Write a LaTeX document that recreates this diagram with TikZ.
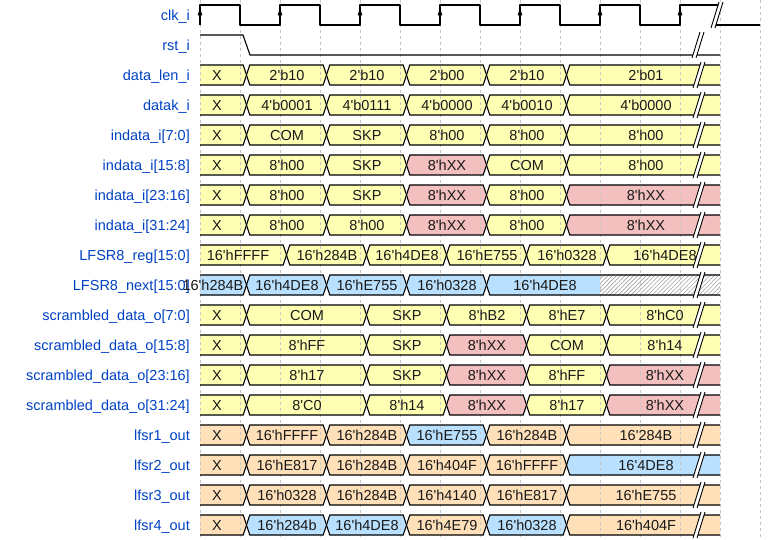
\documentclass[tikz,border=0pt]{standalone}
\usepackage{fontspec}
\newfontfamily\wf{Liberation Sans}
\usetikzlibrary{patterns.meta}
\definecolor{cy}{HTML}{FFFFB4}
\definecolor{co}{HTML}{FFE0B9}
\definecolor{cb}{HTML}{B9E0FF}
\definecolor{cp}{HTML}{F4BFBF}
\definecolor{lab}{HTML}{0041C4}
\newcounter{vc}
\pgfdeclarelayer{fills}
\pgfdeclarelayer{grid}
\pgfsetlayers{fills,grid,main}
\tikzset{
  wl/.style={line width=1.1bp, black, line join=round},
  vt/.style={font=\wf\fontsize{14.5bp}{16bp}\selectfont, inner sep=0pt, text=black!90, anchor=base},
  lbl/.style={font=\wf\fontsize{14.5bp}{16bp}\selectfont, inner sep=0pt, text=lab, anchor=base east},
  gridl/.style={gray!45, dash pattern=on 3bp off 3bp, line width=0.8bp}
}
% start cell: #1 y, #2 a, #3 b, #4 colour, #5 text x, #6 text
\newcommand\cS[6]{%
  \begin{pgfonlayer}{fills}
  \fill[#4] (#2,#1-10) -- (#3-3.3,#1-10) -- (#3,#1) -- (#3-3.3,#1+10) -- (#2,#1+10) -- cycle;
  \end{pgfonlayer}
  \draw[wl] (#2,#1-10) -- (#3-3.3,#1-10) -- (#3,#1) -- (#3-3.3,#1+10) -- (#2,#1+10);
  \stepcounter{vc}\node[vt] (v\arabic{vc}) at (#5,#1+5.3) {#6};}
% middle cell
\newcommand\cM[6]{%
  \begin{pgfonlayer}{fills}
  \fill[#4] (#2+3.3,#1-10) -- (#3-3.3,#1-10) -- (#3,#1) -- (#3-3.3,#1+10) -- (#2+3.3,#1+10) -- (#2,#1) -- cycle;
  \end{pgfonlayer}
  \draw[wl] (#2+3.3,#1-10) -- (#3-3.3,#1-10) -- (#3,#1) -- (#3-3.3,#1+10) -- (#2+3.3,#1+10) -- (#2,#1) -- cycle;
  \stepcounter{vc}\node[vt] (v\arabic{vc}) at (#5,#1+5.3) {#6};}
% end cell (open right end)
\newcommand\cE[6]{%
  \begin{pgfonlayer}{fills}
  \fill[#4] (#2+3.3,#1-10) -- (#3,#1-10) -- (#3,#1+10) -- (#2+3.3,#1+10) -- (#2,#1) -- cycle;
  \end{pgfonlayer}
  \draw[wl] (#3,#1-10) -- (#2+3.3,#1-10) -- (#2,#1) -- (#2+3.3,#1+10) -- (#3,#1+10);
  \stepcounter{vc}\node[vt] (v\arabic{vc}) at (#5,#1+5.3) {#6};}
% break mark: #1 x, #2 y
\newcommand\brk[2]{%
  \fill[white] (#1-6,#2+13) -- (#1+2,#2-13) -- (#1+6,#2-13) -- (#1-2,#2+13) -- cycle;
  \draw[black, line width=0.9bp] (#1-6,#2+13) -- (#1+2,#2-13);
  \draw[black, line width=0.9bp] (#1-2,#2+13) -- (#1+6,#2-13);}
\begin{document}
\begin{tikzpicture}[x=1bp,y=-1bp]
\useasboundingbox (0,0) rectangle (780,540);
\begin{pgfonlayer}{grid}
\foreach \x in {200,240,...,760} {\draw[gridl] (\x,0) -- (\x,540);}
\end{pgfonlayer}

% labels
\node[lbl] (l1) at (190,20.5) {clk\_i};
\node[lbl] (l2) at (190,50.5) {rst\_i};
\node[lbl] (l3) at (190,80.5) {data\_len\_i};
\node[lbl] (l4) at (190,110.5) {datak\_i};
\node[lbl] (l5) at (190,140.5) {indata\_i[7:0]};
\node[lbl] (l6) at (190,170.5) {indata\_i[15:8]};
\node[lbl] (l7) at (190,200.5) {indata\_i[23:16]};
\node[lbl] (l8) at (190,230.5) {indata\_i[31:24]};
\node[lbl] (l9) at (190,260.5) {LFSR8\_reg[15:0]};
\node[lbl] (l10) at (190,290.5) {LFSR8\_next[15:0]};
\node[lbl] (l11) at (190,320.5) {scrambled\_data\_o[7:0]};
\node[lbl] (l12) at (190,350.5) {scrambled\_data\_o[15:8]};
\node[lbl] (l13) at (190,380.5) {scrambled\_data\_o[23:16]};
\node[lbl] (l14) at (190,410.5) {scrambled\_data\_o[31:24]};
\node[lbl] (l15) at (190,440.5) {lfsr1\_out};
\node[lbl] (l16) at (190,470.5) {lfsr2\_out};
\node[lbl] (l17) at (190,500.5) {lfsr3\_out};
\node[lbl] (l18) at (190,530.5) {lfsr4\_out};

% clock
\draw[wl] (200,25) -- (200,5) -- (240,5) -- (240,25) -- (280,25) -- (280,5) -- (320,5) -- (320,25)
  -- (360,25) -- (360,5) -- (400,5) -- (400,25) -- (440,25) -- (440,5) -- (480,5) -- (480,25)
  -- (520,25) -- (520,5) -- (560,5) -- (560,25) -- (600,25) -- (600,5) -- (640,5) -- (640,25)
  -- (680,25) -- (680,5) -- (718,5);
\draw[wl] (715,25) -- (760,25);
\foreach \x in {200,280,...,680} {\fill (\x,8) -- (\x-2.4,15.5) -- (\x+2.4,15.5) -- cycle;}
\brk{717}{15}
% reset
\draw[wl] (200,35) -- (243,35) -- (250,55) -- (720,55);
\brk{698}{45}

% data_len_i
\cS{75}{200}{246.5}{cy}{217}{X}
\cM{75}{246.5}{326.5}{cy}{287}{2'b10}
\cM{75}{326.5}{406.5}{cy}{367}{2'b10}
\cM{75}{406.5}{486.5}{cy}{447}{2'b00}
\cM{75}{486.5}{566.5}{cy}{527}{2'b10}
\cE{75}{566.5}{720}{cy}{646}{2'b01}
% datak_i
\cS{105}{200}{246.5}{cy}{217}{X}
\cM{105}{246.5}{326.5}{cy}{287}{4'b0001}
\cM{105}{326.5}{406.5}{cy}{367}{4'b0111}
\cM{105}{406.5}{486.5}{cy}{447}{4'b0000}
\cM{105}{486.5}{566.5}{cy}{527}{4'b0010}
\cE{105}{566.5}{720}{cy}{646}{4'b0000}
% indata 7:0
\cS{135}{200}{246.5}{cy}{217}{X}
\cM{135}{246.5}{326.5}{cy}{287}{COM}
\cM{135}{326.5}{406.5}{cy}{367}{SKP}
\cM{135}{406.5}{486.5}{cy}{447}{8'h00}
\cM{135}{486.5}{566.5}{cy}{527}{8'h00}
\cE{135}{566.5}{720}{cy}{646}{8'h00}
% indata 15:8
\cS{165}{200}{246.5}{cy}{217}{X}
\cM{165}{246.5}{326.5}{cy}{287}{8'h00}
\cM{165}{326.5}{406.5}{cy}{367}{SKP}
\cM{165}{406.5}{486.5}{cp}{447}{8'hXX}
\cM{165}{486.5}{566.5}{cy}{527}{COM}
\cE{165}{566.5}{720}{cy}{646}{8'h00}
% indata 23:16
\cS{195}{200}{246.5}{cy}{217}{X}
\cM{195}{246.5}{326.5}{cy}{287}{8'h00}
\cM{195}{326.5}{406.5}{cy}{367}{SKP}
\cM{195}{406.5}{486.5}{cp}{447}{8'hXX}
\cM{195}{486.5}{566.5}{cy}{527}{8'h00}
\cE{195}{566.5}{720}{cp}{646}{8'hXX}
% indata 31:24
\cS{225}{200}{246.5}{cy}{217}{X}
\cM{225}{246.5}{326.5}{cy}{287}{8'h00}
\cM{225}{326.5}{406.5}{cy}{367}{8'h00}
\cM{225}{406.5}{486.5}{cp}{447}{8'hXX}
\cM{225}{486.5}{566.5}{cy}{527}{8'h00}
\cE{225}{566.5}{720}{cp}{646}{8'hXX}
% LFSR8_reg
\cS{255}{200}{286.5}{cy}{238}{16'hFFFF}
\cM{255}{286.5}{366.5}{cy}{327}{16'h284B}
\cM{255}{366.5}{446.5}{cy}{407}{16'h4DE8}
\cM{255}{446.5}{526.5}{cy}{487}{16'hE755}
\cM{255}{526.5}{606.5}{cy}{567}{16'h0328}
\cE{255}{606.5}{720}{cy}{665}{16'h4DE8}
% LFSR8_next
\cS{285}{200}{246.5}{cb}{213}{16'h284B}
\cM{285}{246.5}{326.5}{cb}{287}{16'h4DE8}
\cM{285}{326.5}{406.5}{cb}{367}{16'hE755}
\cM{285}{406.5}{486.5}{cb}{447}{16'h0328}
\begin{pgfonlayer}{fills}
\fill[cb] (489.8,275) -- (600,275) -- (600,295) -- (489.8,295) -- (486.5,285) -- cycle;
\fill[white] (600,275) rectangle (720,295);
\fill[pattern={Lines[angle=45,distance=3bp,line width=0.6bp]}, pattern color=gray!75] (600,275) rectangle (720,295);
\end{pgfonlayer}
\draw[wl] (720,275) -- (489.8,275) -- (486.5,285) -- (489.8,295) -- (720,295);
\node[vt] (vnext) at (545,290.3) {16'h4DE8};
% scrambled 7:0
\cS{315}{200}{246.5}{cy}{217}{X}
\cM{315}{246.5}{366.5}{cy}{307}{COM}
\cM{315}{366.5}{446.5}{cy}{407}{SKP}
\cM{315}{446.5}{526.5}{cy}{487}{8'hB2}
\cM{315}{526.5}{606.5}{cy}{567}{8'hE7}
\cE{315}{606.5}{720}{cy}{665}{8'hC0}
% scrambled 15:8
\cS{345}{200}{246.5}{cy}{217}{X}
\cM{345}{246.5}{366.5}{cy}{307}{8'hFF}
\cM{345}{366.5}{446.5}{cy}{407}{SKP}
\cM{345}{446.5}{526.5}{cp}{487}{8'hXX}
\cM{345}{526.5}{606.5}{cy}{567}{COM}
\cE{345}{606.5}{720}{cy}{665}{8'h14}
% scrambled 23:16
\cS{375}{200}{246.5}{cy}{217}{X}
\cM{375}{246.5}{366.5}{cy}{307}{8'h17}
\cM{375}{366.5}{446.5}{cy}{407}{SKP}
\cM{375}{446.5}{526.5}{cp}{487}{8'hXX}
\cM{375}{526.5}{606.5}{cy}{567}{8'hFF}
\cE{375}{606.5}{720}{cp}{665}{8'hXX}
% scrambled 31:24
\cS{405}{200}{246.5}{cy}{217}{X}
\cM{405}{246.5}{366.5}{cy}{307}{8'C0}
\cM{405}{366.5}{446.5}{cy}{407}{8'h14}
\cM{405}{446.5}{526.5}{cp}{487}{8'hXX}
\cM{405}{526.5}{606.5}{cy}{567}{8'h17}
\cE{405}{606.5}{720}{cp}{665}{8'hXX}
% lfsr1
\cS{435}{200}{246.5}{co}{217}{X}
\cM{435}{246.5}{326.5}{co}{287}{16'hFFFF}
\cM{435}{326.5}{406.5}{co}{367}{16'h284B}
\cM{435}{406.5}{486.5}{cb}{447}{16'hE755}
\cM{435}{486.5}{566.5}{co}{527}{16'h284B}
\cE{435}{566.5}{720}{co}{646}{16'284B}
% lfsr2
\cS{465}{200}{246.5}{co}{217}{X}
\cM{465}{246.5}{326.5}{co}{287}{16'hE817}
\cM{465}{326.5}{406.5}{co}{367}{16'h284B}
\cM{465}{406.5}{486.5}{co}{447}{16'h404F}
\cM{465}{486.5}{566.5}{co}{527}{16'hFFFF}
\cE{465}{566.5}{720}{cb}{646}{16'4DE8}
% lfsr3
\cS{495}{200}{246.5}{co}{217}{X}
\cM{495}{246.5}{326.5}{co}{287}{16'h0328}
\cM{495}{326.5}{406.5}{co}{367}{16'h284B}
\cM{495}{406.5}{486.5}{co}{447}{16'h4140}
\cM{495}{486.5}{566.5}{co}{527}{16'hE817}
\cE{495}{566.5}{720}{co}{646}{16'hE755}
% lfsr4
\cS{525}{200}{246.5}{co}{217}{X}
\cM{525}{246.5}{326.5}{cb}{287}{16'h284b}
\cM{525}{326.5}{406.5}{cb}{367}{16'h4DE8}
\cM{525}{406.5}{486.5}{co}{447}{16'h4E79}
\cM{525}{486.5}{566.5}{cb}{527}{16'h0328}
\cE{525}{566.5}{720}{co}{646}{16'h404F}

% breaks
\foreach \y in {75,105,...,525} {\brk{699}{\y}}
\end{tikzpicture}
\end{document}
